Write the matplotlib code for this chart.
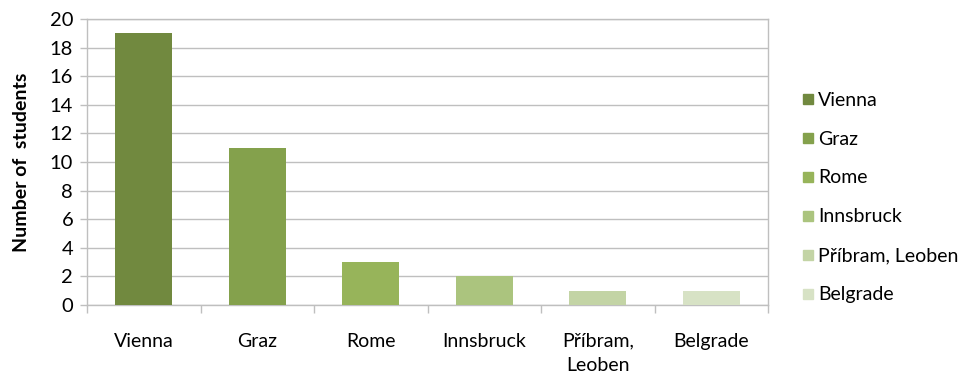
import matplotlib.pyplot as plt
from matplotlib.lines import Line2D
import numpy as np

# data
cities = ["Vienna", "Graz", "Rome", "Innsbruck", "Příbram, Leoben", "Belgrade"]
tickLabels = ["Vienna", "Graz", "Rome", "Innsbruck", "Příbram,\nLeoben", "Belgrade"]
students = [19, 11, 3, 2, 1, 1]
colors = ["#71893F", "#84A14C", "#97B45A", "#ABC47E", "#C3D4A5", "#D7E2C5"]

plt.rcParams['font.family'] = ['Lato', 'DejaVu Sans']

fig = plt.figure(figsize=(9.65, 3.74), dpi=100)
ax = fig.add_axes([0.0902, 0.1845, 0.796 - 0.0902, 0.949 - 0.1845])

x = np.arange(len(cities))
ax.bar(x, students, width=0.5, color=colors, zorder=3)

ax.set_xlim(-0.5, len(cities) - 0.5)
ax.set_ylim(0, 20)
ax.set_yticks(range(0, 21, 2))
ax.yaxis.grid(True, color="#BFBFBF", linewidth=1, zorder=0)

# labels under bars, tick marks on category boundaries
ax.set_xticks(x)
ax.set_xticklabels(tickLabels, fontsize=14, linespacing=1.5)
ax.set_xticks(np.arange(-0.5, len(cities)), minor=True)
ax.tick_params(axis="x", which="major", length=0, pad=20)
ax.tick_params(axis="x", which="minor", length=6, color="#BFBFBF", width=1)
ax.tick_params(axis="y", length=5, color="#BFBFBF", width=1, labelsize=14.5, pad=5)

for s in ax.spines.values():
    s.set_color("#BFBFBF")
    s.set_linewidth(1)

ax.set_ylabel("Number of  students", fontsize=14, fontweight="bold", labelpad=14)

# legend with square markers
handles = [Line2D([], [], marker="s", linestyle="none", markersize=7,
                  markerfacecolor=c, markeredgecolor=c) for c in colors]
fig.legend(handles, cities, loc="center left", bbox_to_anchor=(0.832, 0.472),
           frameon=False, fontsize=14, handlelength=0.5, handletextpad=0.3,
           labelspacing=1.13, borderpad=0, borderaxespad=0)

fig.savefig("out.png", dpi=100)
